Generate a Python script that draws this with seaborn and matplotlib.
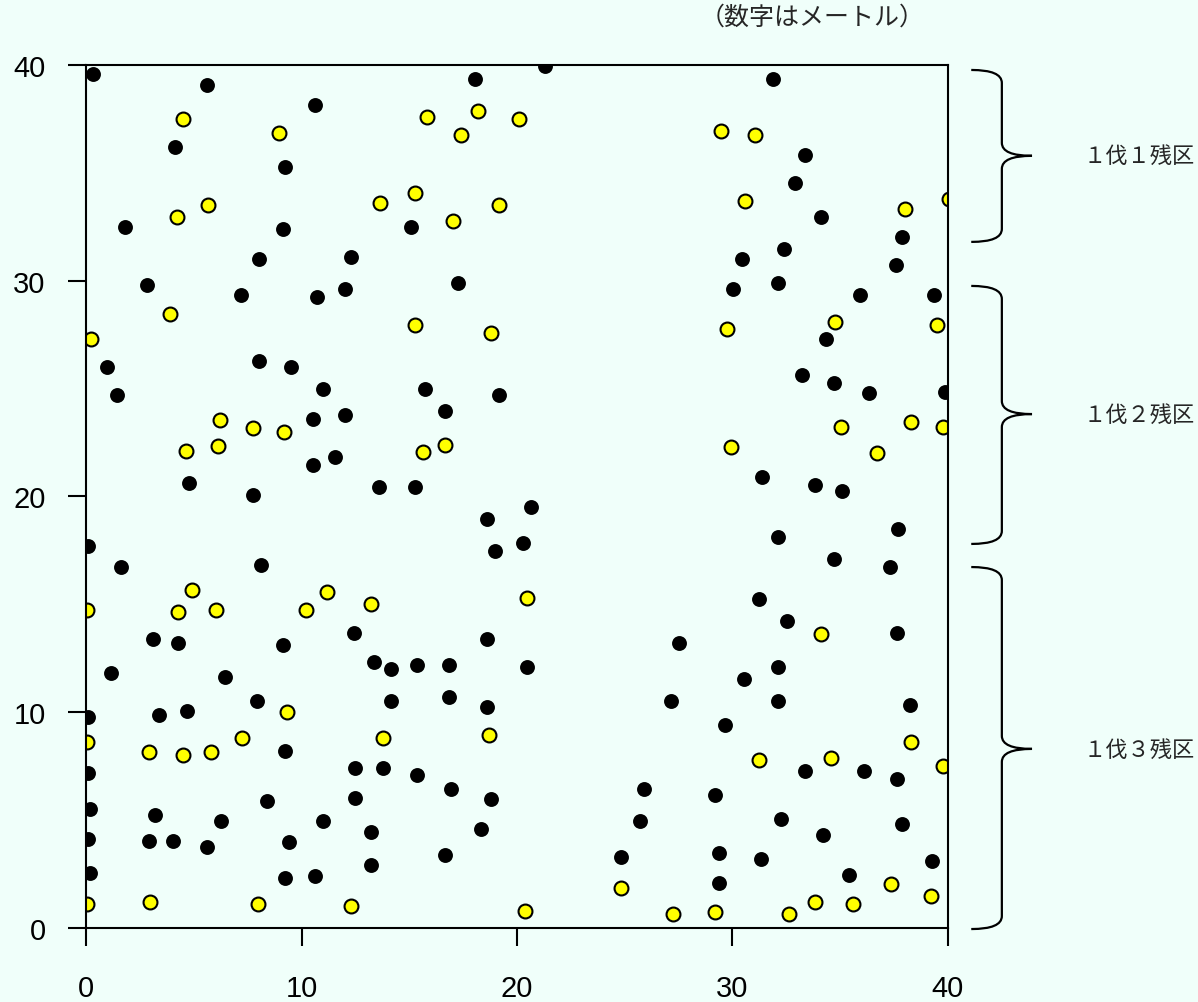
import matplotlib.pyplot as plt
import matplotlib.patches as mpatches
from matplotlib.path import Path
import pandas as pd
import seaborn as sns

# tree positions (m)
black_x = [0.33, 5.6, 10.62, 4.13, 9.23, 1.8, 9.14, 8.04, 12.3, 2.82, 7.19, 10.73, 12.02,
           21.32, 18.06, 15.08, 17.25,
           31.9, 33.37, 32.92, 34.13, 37.85, 32.37, 30.42, 37.57, 30.03, 32.09, 35.9, 39.34, 34.33,
           0.96, 1.43, 8.04, 9.49, 10.98, 10.53, 12.03, 10.53, 11.57, 4.77, 7.76, 0.09, 1.63, 8.11,
           15.75, 19.16, 16.68, 13.58, 15.27, 20.66, 18.63, 20.27, 19.0,
           33.21, 34.69, 36.34, 39.86, 31.36, 33.85, 35.08, 37.66, 32.09, 34.69, 37.29, 31.25, 32.55, 37.63,
           3.1, 4.29, 9.14, 12.42, 1.16, 6.46, 7.94, 0.09, 3.39, 4.69, 9.25, 0.09, 8.39, 0.2, 3.21,
           6.27, 10.98, 12.48, 12.48, 0.09, 2.93, 4.04, 5.62, 9.43, 0.2, 9.25, 10.62,
           18.61, 13.38, 14.15, 15.38, 16.86, 20.47, 14.15, 16.86, 18.61, 13.8, 15.38, 16.94, 18.8,
           13.23, 18.35, 13.23, 16.68, 25.88, 25.69, 24.84,
           27.53, 32.09, 30.52, 27.16, 32.09, 38.23, 29.67, 33.37, 36.08, 37.64, 29.21, 32.27, 37.85,
           34.22, 29.39, 31.34, 39.24, 29.39, 35.41]
black_y = [39.6, 39.07, 38.15, 36.18, 35.26, 32.49, 32.41, 31.0, 31.1, 29.8, 29.35, 29.25, 29.6,
           39.97, 39.35, 32.49, 29.88,
           39.35, 35.83, 34.53, 32.95, 32.04, 31.47, 31.0, 30.73, 29.62, 29.88, 29.35, 29.35, 27.3,
           26.0, 24.7, 26.28, 26.0, 24.98, 23.59, 23.76, 21.47, 21.83, 20.63, 20.07, 17.72, 16.73, 16.82,
           24.98, 24.7, 23.96, 20.44, 20.44, 19.51, 18.96, 17.84, 17.47,
           25.63, 25.26, 24.8, 24.83, 20.92, 20.55, 20.25, 18.49, 18.14, 17.1, 16.73, 15.26, 14.23, 13.67,
           13.39, 13.21, 13.13, 13.67, 11.82, 11.65, 10.54, 9.78, 9.89, 10.07, 8.22, 7.18, 5.9, 5.52, 5.25,
           4.97, 4.97, 7.4, 6.01, 4.13, 4.05, 4.05, 3.77, 3.97, 2.55, 2.3, 2.39,
           13.39, 12.31, 12.0, 12.2, 12.2, 12.08, 10.54, 10.72, 10.24, 7.4, 7.11, 6.44, 5.99,
           4.43, 4.59, 2.93, 3.4, 6.44, 4.96, 3.3,
           13.21, 12.11, 11.54, 10.54, 10.54, 10.34, 9.39, 7.29, 7.29, 6.9, 6.18, 5.07, 4.8,
           4.33, 3.49, 3.21, 3.12, 2.1, 2.47]

yellow_x = [4.48, 8.94, 5.68, 4.21, 3.92, 0.22,
            15.81, 18.21, 20.08, 17.39, 13.66, 15.25, 19.16, 17.02, 15.25, 18.78,
            29.45, 31.05, 30.58, 38.02, 40.05, 29.75, 34.76, 39.5,
            6.23, 7.73, 9.2, 4.66, 6.13, 4.94, 4.29, 6.05, 0.06, 11.16, 10.23, 13.21,
            15.63, 16.65, 20.46,
            29.93, 35.03, 38.28, 39.78, 36.7, 34.1,
            9.31, 7.26, 0.03, 2.9, 4.48, 5.78, 0.06, 2.99, 8.0, 12.28,
            13.77, 18.69, 24.84, 20.36,
            38.3, 31.22, 34.56, 39.77, 37.34, 39.21, 33.82, 35.59, 32.63, 29.19, 27.24]
yellow_y = [37.5, 36.85, 33.53, 32.97, 28.44, 27.3,
            37.6, 37.88, 37.51, 36.77, 33.62, 34.08, 33.53, 32.78, 27.96, 27.59,
            36.96, 36.77, 33.71, 33.34, 33.79, 27.78, 28.07, 27.96,
            23.53, 23.16, 22.97, 22.12, 22.32, 15.65, 14.63, 14.74, 14.72, 15.56, 14.72, 15.0,
            22.05, 22.4, 15.28,
            22.31, 23.24, 23.44, 23.24, 22.03, 13.61,
            10.0, 8.79, 8.61, 8.14, 8.03, 8.14, 1.1, 1.19, 1.1, 1.02,
            8.79, 8.96, 1.85, 0.8,
            8.61, 7.77, 7.88, 7.52, 2.02, 1.5, 1.19, 1.11, 0.63, 0.74, 0.63]

ticks = [0, 10, 20, 30, 40]

# plot sections on the right: (top, tip, bottom) in data units
plot_labels = ["１伐１残区", "１伐２残区", "１伐３残区"]
brace_top = [39.77, 29.76, 16.73]
brace_tip = [35.79, 23.82, 8.30]
brace_bottom = [31.8, 17.8, -0.05]

bg = "#F0FFFA"
sns.set_theme(style="white")
plt.rcParams["font.family"] = ["Liberation Sans", "Noto Sans CJK JP", "DejaVu Sans"]

black = pd.DataFrame({"x": black_x, "y": black_y})
yellow = pd.DataFrame({"x": yellow_x, "y": yellow_y})

fig = plt.figure(figsize=(11.98, 10.03), dpi=100, facecolor=bg)
ax = fig.add_axes([0.0718, 0.0738, 0.7195, 0.8604])
ax.set_facecolor(bg)

sns.scatterplot(data=black, x="x", y="y", color="black", s=115, linewidth=0, ax=ax)
sns.scatterplot(data=yellow, x="x", y="y", color="#FFFF00", edgecolor="black",
                s=100, linewidth=1.5, ax=ax)

ax.set_xlim(0, 40)
ax.set_ylim(0, 40)
ax.set_xticks(ticks)
ax.set_yticks(ticks)
ax.set_xlabel("")
ax.set_ylabel("")
for s in ax.spines.values():
    s.set_color("black")
    s.set_linewidth(1.5)
ax.tick_params(direction="out", length=13, width=1.5, color="black",
               labelsize=21, labelcolor="black", pad=16, bottom=True, left=True)
ax.tick_params(axis="x", pad=20)

# curly braces for the three plots
x0, xm, xt, r = 41.08, 42.5, 43.9, 0.6
for top, tip, bot, lab in zip(brace_top, brace_tip, brace_bottom, plot_labels):
    verts = [(x0, top), (xm, top), (xm, top - r),
             (xm, tip + r), (xm, tip), (xt, tip),
             (xm, tip), (xm, tip - r),
             (xm, bot + r), (xm, bot), (x0, bot)]
    codes = [Path.MOVETO, Path.CURVE3, Path.CURVE3,
             Path.LINETO, Path.CURVE3, Path.CURVE3,
             Path.CURVE3, Path.CURVE3,
             Path.LINETO, Path.CURVE3, Path.CURVE3]
    patch = mpatches.PathPatch(Path(verts, codes), fill=False, lw=1.6,
                               edgecolor="black", clip_on=False)
    ax.add_patch(patch)
    ax.text(46.3, tip, lab, fontsize=16, ha="left", va="center",
            family=["Noto Sans CJK JP"], clip_on=False)

fig.text(0.678, 0.982, "（数字はメートル）", fontsize=18, ha="center", va="center",
         family=["Noto Sans CJK JP"])

fig.savefig("out.png", dpi=100, facecolor=bg)
